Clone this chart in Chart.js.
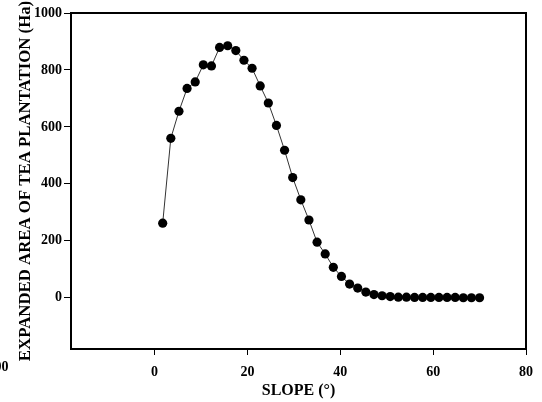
<!DOCTYPE html>
<html>
<head>
<meta charset="utf-8">
<script src="https://cdn.jsdelivr.net/npm/chart.js@4/dist/chart.umd.min.js"></script>
<style>
    html, body { margin: 0; padding: 0; background: #fff; }
    #wrap { width: 542px; height: 402px; }
</style>
</head>
<body>
<div id="wrap"><canvas id="slope-area"></canvas></div>
<script>
// Slope classes (degrees) and expanded tea area (Ha)
let slope = [1.75, 3.5, 5.25, 7, 8.75, 10.5, 12.25, 14, 15.75, 17.5,
    19.25, 21, 22.75, 24.5, 26.25, 28, 29.75, 31.5, 33.25, 35,
    36.75, 38.5, 40.25, 42, 43.75, 45.5, 47.25, 49, 50.75, 52.5,
    54.25, 56, 57.75, 59.5, 61.25, 63, 64.75, 66.5, 68.25, 70]
let area = [262, 560, 655, 735, 758, 818, 814, 879, 885, 868,
    834, 806, 744, 684, 605, 518, 422, 344, 273, 195,
    154, 107, 75, 48, 34, 20, 11, 7, 4, 2,
    2, 1, 1, 1, 1, 1, 1, 0, 0, 0]
let x_ticks = [0, 20, 40, 60, 80]
let y_ticks = [0, 200, 400, 600, 800, 1000]

let serif = "'Liberation Serif', 'Times New Roman', serif"

let points = []
for (let i = 0; i < slope.length; i++) {
    points.push({"x": slope[i], "y": area[i]})
}

// closes the box on the top and right sides, plus the stray label at the left edge
let frame = {
    id: "frame",
    afterDraw(chart) {
        let ctx = chart.ctx
        let a = chart.chartArea
        ctx.save()
        ctx.strokeStyle = "#000"
        ctx.lineWidth = 2
        ctx.beginPath()
        ctx.moveTo(a.left, a.top)
        ctx.lineTo(a.right, a.top)
        ctx.lineTo(a.right, a.bottom)
        ctx.stroke()
        ctx.fillStyle = "#000"
        ctx.font = "bold 14px " + serif
        ctx.textAlign = "right"
        ctx.textBaseline = "middle"
        ctx.fillText("00", 8.5, 367)
        ctx.restore()
    }
}

new Chart("slope-area", {
    type: "scatter",
    data: {
        datasets: [{
            data: points,
            showLine: true,
            borderColor: "#333",
            borderWidth: 1,
            pointRadius: 4.6,
            pointHoverRadius: 4.6,
            pointBackgroundColor: "#000",
            pointBorderColor: "#000",
            pointBorderWidth: 0
        }]
    },
    options: {
        responsive: true,
        maintainAspectRatio: false,
        animation: false,
        layout: {padding: {left: 0, right: 6, top: 13, bottom: 0}},
        plugins: {legend: {display: false}, tooltip: {enabled: false}},
        scales: {
            x: {
                type: "linear",
                min: -18,
                max: 80,
                afterBuildTicks: (scale) => { scale.ticks = x_ticks.map(v => ({value: v})) },
                afterFit: (scale) => { scale.height = 53 },
                border: {display: true, color: "#000", width: 2},
                grid: {display: true, drawOnChartArea: false, drawTicks: true, tickLength: 6, color: "#000", tickWidth: 1},
                ticks: {
                    color: "#000", padding: 9, maxRotation: 0,
                    font: {family: serif, size: 14, weight: "bold"},
                    callback: (v) => String(v)
                },
                title: {
                    display: true,
                    text: "SLOPE (°)",
                    color: "#000",
                    padding: {top: 0, bottom: 2},
                    font: {family: serif, size: 16, weight: "bold"}
                }
            },
            y: {
                type: "linear",
                min: -180,
                max: 1000,
                afterBuildTicks: (scale) => { scale.ticks = y_ticks.map(v => ({value: v})) },
                afterFit: (scale) => { scale.width = 71 },
                border: {display: true, color: "#000", width: 2},
                grid: {display: true, drawOnChartArea: false, drawTicks: true, tickLength: 7, color: "#000", tickWidth: 1},
                ticks: {
                    color: "#000", padding: 2,
                    font: {family: serif, size: 14, weight: "bold"},
                    callback: (v) => String(v)
                },
                title: {
                    display: true,
                    text: "EXPANDED AREA OF TEA PLANTATION (Ha)",
                    color: "#000",
                    padding: {top: 16, bottom: 0},
                    font: {family: serif, size: 16.8, weight: "bold"}
                }
            }
        }
    },
    plugins: [frame]
})
</script>
</body>
</html>
